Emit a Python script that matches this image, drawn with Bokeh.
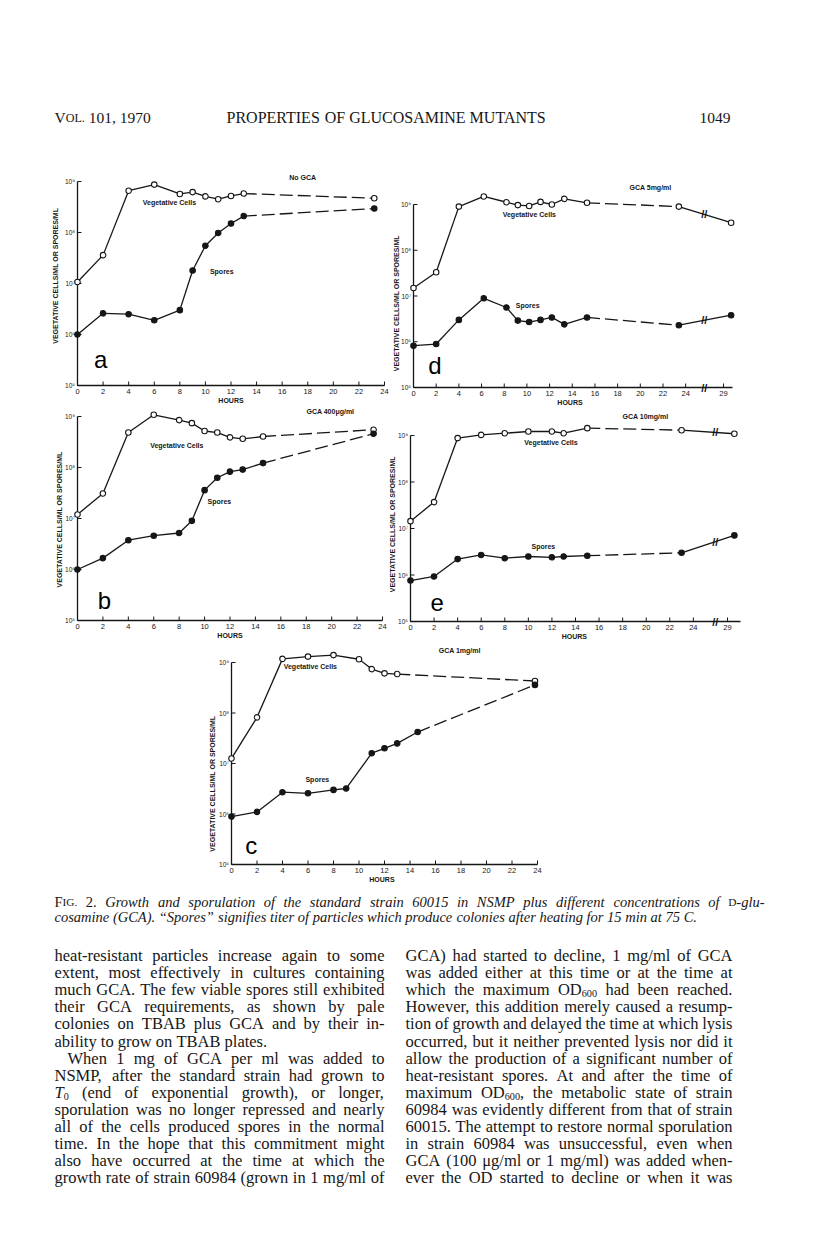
import math
from bokeh.plotting import figure
from bokeh.layouts import column, row
from bokeh.models import Range1d, Spacer
from bokeh.core.properties import value
from bokeh.embed import file_html
from bokeh.resources import INLINE

# ---------------- data ----------------
# panel a : No GCA
A_HOURS = [0, 2, 4, 6, 8, 9, 10, 11, 12, 13, 23.2]
A_VEG = [1.07e7, 3.6e7, 6.6e8, 8.7e8, 5.7e8, 6.2e8, 5.1e8, 4.5e8, 5.2e8, 5.8e8, 4.7e8]
A_SPORES = [1.0e6, 2.6e6, 2.5e6, 1.9e6, 3.0e6, 1.8e7, 5.5e7, 9.8e7, 1.5e8, 2.1e8, 2.95e8]

# panel b : GCA 400 ug/ml
B_HOURS = [0, 2, 4, 6, 8, 9, 10, 11, 12, 13, 14.6, 23.3]
B_VEG = [1.2e7, 3.1e7, 4.85e8, 1.08e9, 8.5e8, 7.4e8, 5.2e8, 4.85e8, 3.9e8, 3.65e8, 4.05e8, 5.5e8]
B_SPORES = [1.0e6, 1.67e6, 3.75e6, 4.6e6, 5.2e6, 9.0e6, 3.6e7, 6.3e7, 8.3e7, 9.1e7, 1.22e8, 4.6e8]

# panel c : GCA 1 mg/ml
C_VEG_HOURS = [0, 2, 4, 6, 8, 10, 11, 12, 13, 23.8]
C_VEG = [1.26e7, 8.2e7, 1.18e9, 1.31e9, 1.4e9, 1.16e9, 7.4e8, 6.1e8, 5.9e8, 4.3e8]
C_SPORE_HOURS = [0, 2, 4, 6, 8, 9, 11, 12, 13, 14.6, 23.8]
C_SPORES = [8.9e5, 1.1e6, 2.7e6, 2.57e6, 3.0e6, 3.2e6, 1.6e7, 2.0e7, 2.5e7, 4.2e7, 3.6e8]

# panel d : GCA 5 mg/ml
D_HOURS = [0, 2, 4, 6.2, 8.2, 9.2, 10.2, 11.2, 12.2, 13.3, 15.3, 23.4, 30]
D_VEG = [1.5e7, 3.3e7, 9.0e8, 1.5e9, 1.12e9, 9.7e8, 9.3e8, 1.14e9, 1.0e9, 1.33e9, 1.09e9, 9.0e8, 4.0e8]
D_SPORES = [8.2e5, 8.9e5, 3.0e6, 8.9e6, 5.6e6, 2.9e6, 2.7e6, 3.0e6, 3.4e6, 2.4e6, 3.4e6, 2.3e6, 3.8e6]

# panel e : GCA 10 mg/ml
E_HOURS = [0, 2, 4, 6, 8, 10, 12, 13, 15, 23, 30]
E_VEG = [1.44e7, 3.7e7, 8.8e8, 1.03e9, 1.12e9, 1.22e9, 1.22e9, 1.12e9, 1.44e9, 1.3e9, 1.09e9]
E_SPORES = [7.6e5, 9.3e5, 2.2e6, 2.7e6, 2.3e6, 2.5e6, 2.4e6, 2.5e6, 2.6e6, 3.0e6, 7.1e6]

X_TICKS = [0, 2, 4, 6, 8, 10, 12, 14, 16, 18, 20, 22, 24]
Y_DECADES = [5, 6, 7, 8, 9]
SUPERSCRIPT = {5: "10\u2075", 6: "10\u2076", 7: "10\u2077", 8: "10\u2078", 9: "10\u2079"}
Y_TITLE = "VEGETATIVE CELLS/ML OR SPORES/ML"
X_TITLE = "HOURS"

HEADER_LEFT = "VOL. 101, 1970"
HEADER_MID = "PROPERTIES OF GLUCOSAMINE MUTANTS"
HEADER_RIGHT = "1049"

CAPTION = [
    "FIG. 2. Growth and sporulation of the standard strain 60015 in NSMP plus different concentrations of D-glu-",
    "cosamine (GCA). \u201cSpores\u201d signifies titer of particles which produce colonies after heating for 15 min at 75 C.",
]
LEFT_COL = [
    "heat-resistant particles increase again to some",
    "extent, most effectively in cultures containing",
    "much GCA. The few viable spores still exhibited",
    "their GCA requirements, as shown by pale",
    "colonies on TBAB plus GCA and by their in-",
    "ability to grow on TBAB plates.",
    "When 1 mg of GCA per ml was added to",
    "NSMP, after the standard strain had grown to",
    "T\u2080 (end of exponential growth), or longer,",
    "sporulation was no longer repressed and nearly",
    "all of the cells produced spores in the normal",
    "time. In the hope that this commitment might",
    "also have occurred at the time at which the",
    "growth rate of strain 60984 (grown in 1 mg/ml of",
]
RIGHT_COL = [
    "GCA) had started to decline, 1 mg/ml of GCA",
    "was added either at this time or at the time at",
    "which the maximum OD\u2086\u2080\u2080 had been reached.",
    "However, this addition merely caused a resump-",
    "tion of growth and delayed the time at which lysis",
    "occurred, but it neither prevented lysis nor did it",
    "allow the production of a significant number of",
    "heat-resistant spores. At and after the time of",
    "maximum OD\u2086\u2080\u2080, the metabolic state of strain",
    "60984 was evidently different from that of strain",
    "60015. The attempt to restore normal sporulation",
    "in strain 60984 was unsuccessful, even when",
    "GCA (100 \u03bcg/ml or 1 mg/ml) was added when-",
    "ever the OD started to decline or when it was",
]

# ---------------- styling / layout ----------------
INK = "#161616"
SANS = "Liberation Sans"
SERIF = "Liberation Serif"

PANELS = {
    "a": dict(w=389, h=245, bl=77, br=5, bt=19, bb=22, x_end=24, pos29=None, brk=None,
              ylab_off=21.7, ylab_dec=7.15, hours_x=12.0,
              series=[(A_HOURS, A_VEG, False, (13, 23.2)), (A_HOURS, A_SPORES, True, (13, 23.2))],
              notes=[("No GCA", 17.6, 1.2e9, "s"), ("Vegetative  Cells", 7.26, 3.9e8, "s"),
                     ("Spores", 11.28, 1.74e7, "s"), ("a", 1.82, 3.3e5, "L")]),
    "d": dict(w=411, h=245, bl=24, br=68, bt=42, bb=20, x_end=28.13, pos29=27.34, brk=25.64,
              ylab_off=17.5, ylab_dec=6.84, hours_x=13.8,
              series=[(D_HOURS, D_VEG, False, (15.3, 23.4)), (D_HOURS, D_SPORES, True, (15.3, 23.4))],
              notes=[("GCA 5mg/ml", 20.9, 2.3e9, "s"), ("Vegetative  Cells", 10.3, 6.1e8, "s"),
                     ("Spores", 10.07, 6.3e6, "s"), ("d", 1.88, 3.05e5, "L")]),
    "b": dict(w=389, h=235, bl=77, br=7, bt=9, bb=22, x_end=24, pos29=None, brk=None,
              ylab_off=18.0, ylab_dec=6.98, hours_x=12.0,
              series=[(B_HOURS, B_VEG, False, (14.6, 23.3)), (B_HOURS, B_SPORES, True, (14.6, 23.3))],
              notes=[("GCA 400\u03bcg/ml", 19.9, 1.25e9, "s"), ("Vegetative  Cells", 7.89, 2.7e8, "s"),
                     ("Spores", 11.16, 2.2e7, "s"), ("b", 2.12, 2.5e5, "L")]),
    "e": dict(w=411, h=235, bl=21, br=60, bt=28, bb=21, x_end=28.0, pos29=26.9, brk=25.86,
              ylab_off=17.8, ylab_dec=7.09, hours_x=13.9,
              series=[(E_HOURS, E_VEG, False, (15, 23)), (E_HOURS, E_SPORES, True, (15, 23))],
              notes=[("GCA 10mg/ml", 19.94, 2.6e9, "s"), ("Vegetative  Cells", 12.0, 6.9e8, "s"),
                     ("Spores", 11.27, 4.2e6, "s"), ("e", 2.27, 2.6e5, "L")]),
    "c": dict(w=398, h=245, bl=77, br=15, bt=20, bb=23, x_end=24, pos29=None, brk=None,
              ylab_off=19.3, ylab_dec=6.6, hours_x=11.8,
              series=[(C_VEG_HOURS, C_VEG, False, (13, 23.8)), (C_SPORE_HOURS, C_SPORES, True, (14.6, 23.8))],
              notes=[("GCA 1mg/ml", 17.9, 1.73e9, "s"), ("Vegetative  Cells", 6.26, 8.3e8, "s"),
                     ("Spores", 6.73, 4.9e6, "s"), ("c", 1.55, 2.4e5, "L")]),
}


def make_xmap(pos29):
    def f(h):
        if pos29 is None or h <= 24:
            return h
        return 24 + (h - 24) * (pos29 - 24) / 5.0
    return f


def txt(p, xs, ys, texts, size, bold=False, align="center", baseline="middle", angle=0.0,
        font=SANS, color=INK):
    p.text(x=xs, y=ys, text=texts, text_font=value(font), text_font_size=value(size),
           text_font_style="bold" if bold else "normal", text_color=color,
           text_align=align, text_baseline=baseline, angle=angle)


def make_panel(cfg):
    fw = cfg["w"] - cfg["bl"] - cfg["br"]
    fh = cfg["h"] - cfg["bt"] - cfg["bb"]
    px_hr = fw / cfg["x_end"]
    px_dec = fh / 4.0
    x_end = cfg["x_end"]
    ybot, ytop = 10.0 ** Y_DECADES[0], 10.0 ** Y_DECADES[-1]

    def dx(px):       # pixel distance -> hours
        return px / px_hr

    def yup(v, px):   # move a log value up by px pixels
        return v * 10 ** (px / px_dec)

    p = figure(width=cfg["w"], height=cfg["h"],
               x_range=Range1d(-cfg["bl"] / px_hr, x_end + cfg["br"] / px_hr),
               y_range=Range1d(10 ** (Y_DECADES[0] - cfg["bb"] / px_dec),
                               10 ** (Y_DECADES[-1] + cfg["bt"] / px_dec)),
               y_axis_type="log", x_axis_location=None, y_axis_location=None,
               output_backend="svg", toolbar_location=None, min_border=0)
    p.outline_line_color = None
    p.grid.visible = False
    p.background_fill_color = "white"
    p.border_fill_color = "white"

    # axes drawn through the scales
    p.segment([0, 0], [ybot, ybot], [x_end, 0], [ybot, ytop], line_color=INK, line_width=1.3)
    xmap = make_xmap(cfg["pos29"])
    xt = list(X_TICKS)
    xl = [str(t) for t in X_TICKS]
    if cfg["pos29"] is not None:
        xt.append(xmap(29))
        xl.append("29")
    p.segment(xt, [ybot] * len(xt), xt, [yup(ybot, 4)] * len(xt), line_color=INK, line_width=1.0)
    yt = [10.0 ** k for k in Y_DECADES]
    p.segment([0] * len(yt), yt, [dx(4)] * len(yt), yt, line_color=INK, line_width=1.0)
    txt(p, xt, [yup(ybot, -6)] * len(xt), xl, "7.5px")
    txt(p, [dx(-2.5)] * len(yt), yt, [SUPERSCRIPT[k] for k in Y_DECADES], "6.5px", align="right")
    txt(p, [cfg["hours_x"]], [yup(ybot, -15)], [X_TITLE], "7px", bold=True)
    txt(p, [dx(-cfg["ylab_off"])], [10 ** cfg["ylab_dec"]], [Y_TITLE], "7px", bold=True,
        angle=math.pi / 2)

    brk_x, brk_y = [], []
    for hours, vals, filled, dash_iv in cfg["series"]:
        xs = [xmap(h) for h in hours]
        solid = dict(x0=[], y0=[], x1=[], y1=[])
        dashed = dict(x0=[], y0=[], x1=[], y1=[])
        for i in range(len(xs) - 1):
            tgt = dashed if (dash_iv[0] <= hours[i] and hours[i + 1] <= dash_iv[1]) else solid
            tgt["x0"].append(xs[i]); tgt["y0"].append(vals[i])
            tgt["x1"].append(xs[i + 1]); tgt["y1"].append(vals[i + 1])
        p.segment(solid["x0"], solid["y0"], solid["x1"], solid["y1"], line_color=INK, line_width=1.3)
        if dashed["x0"]:
            p.segment(dashed["x0"], dashed["y0"], dashed["x1"], dashed["y1"], line_color=INK,
                      line_width=1.3, line_dash="13 5")
        p.scatter(xs, vals, marker="circle", size=5.5, line_color=INK, line_width=1.1,
                  fill_color=INK if filled else "white")
        if cfg["brk"] is not None:
            bp = cfg["brk"]
            for i in range(len(xs) - 1):
                if xs[i] <= bp <= xs[i + 1]:
                    t = (bp - xs[i]) / (xs[i + 1] - xs[i])
                    ly = math.log10(vals[i]) + t * (math.log10(vals[i + 1]) - math.log10(vals[i]))
                    brk_x.append(bp)
                    brk_y.append(10 ** ly)
    if cfg["brk"] is not None:
        brk_x.append(cfg["brk"])
        brk_y.append(ybot)
        txt(p, brk_x, brk_y, ["//"] * len(brk_x), "11px", bold=True)

    for t, hx, hy, kind in cfg["notes"]:
        if kind == "L":
            txt(p, [hx], [hy], [t], "24px", color="#000000")
        else:
            txt(p, [hx], [hy], [t], "7px", bold=True)
    return p


# ---------------- text (Times metrics for justification) ----------------
ROMAN = {' ': 250, '!': 333, '"': 408, "'": 333, '(': 333, ')': 333, ',': 250, '-': 333, '.': 250,
         '/': 278, ':': 278, ';': 278, '?': 444, '\u201c': 444, '\u201d': 444, '\u03bc': 500}
ROMAN.update({d: 500 for d in "0123456789"})
ROMAN.update(dict(zip("ABCDEFGHIJKLMNOPQRSTUVWXYZ",
                      [722, 667, 667, 722, 611, 556, 722, 722, 333, 389, 722, 611, 889, 722, 722, 556,
                       722, 667, 556, 611, 722, 722, 944, 722, 722, 611])))
ROMAN.update(dict(zip("abcdefghijklmnopqrstuvwxyz",
                      [444, 500, 444, 500, 444, 333, 500, 500, 278, 278, 500, 278, 778, 500, 500, 500,
                       500, 333, 389, 278, 500, 500, 722, 500, 500, 444])))
ITALIC = {' ': 250, '(': 333, ')': 333, ',': 250, '-': 333, '.': 250, '/': 278, ':': 333,
          '\u201c': 556, '\u201d': 556}
ITALIC.update({d: 500 for d in "0123456789"})
ITALIC.update(dict(zip("ABCDEFGHIJKLMNOPQRSTUVWXYZ",
                       [611, 611, 667, 722, 611, 611, 722, 722, 333, 444, 667, 556, 833, 667, 722, 611,
                        722, 611, 500, 556, 722, 611, 833, 611, 556, 556])))
ITALIC.update(dict(zip("abcdefghijklmnopqrstuvwxyz",
                       [500, 500, 444, 500, 444, 278, 500, 500, 278, 278, 444, 278, 722, 500, 500, 500,
                        500, 389, 389, 278, 500, 444, 667, 444, 444, 389])))

SUBS = {"\u2080": "0", "\u2086": "6"}


def run_w(text, italic, size):
    tab = ITALIC if italic else ROMAN
    return sum(tab.get(ch, 500) for ch in text) * size / 1000.0


def word_runs(word, italic_default, specials):
    if word in specials:
        return specials[word]
    runs = []
    cur, cur_sub = "", False
    for ch in word:
        is_sub = ch in SUBS
        c = SUBS.get(ch, ch)
        if cur and is_sub != cur_sub:
            runs.append((cur, italic_default, 0.62 if cur_sub else 1.0, 4 if cur_sub else 0))
            cur = ""
        cur += c
        cur_sub = is_sub
    if cur:
        runs.append((cur, italic_default, 0.62 if cur_sub else 1.0, 4 if cur_sub else 0))
    return runs


def set_line(line, x0, x1, y, size, justify, italic_default, specials, sink):
    words = [word_runs(w, italic_default, specials) for w in line.split()]
    widths = [sum(run_w(t, it, size * sc) for t, it, sc, dy in runs) for runs in words]
    space = 250 * size / 1000.0
    if justify and len(words) > 1:
        gap = (x1 - x0 - sum(widths)) / (len(words) - 1)
        gap = max(gap, space * 0.5)
    else:
        gap = space
    x = x0
    for runs, w in zip(words, widths):
        xx = x
        for t, it, sc, dy in runs:
            sink.append((xx, y + dy, t, it, round(size * sc, 2)))
            xx += run_w(t, it, size * sc)
        x += w + gap


def text_figure(w, h, items):
    p = figure(width=w, height=h, x_range=Range1d(0, w), y_range=Range1d(h, 0),
               x_axis_location=None, y_axis_location=None, output_backend="svg",
               toolbar_location=None, min_border=0)
    p.outline_line_color = None
    p.grid.visible = False
    groups = {}
    for x, y, t, it, sz in items:
        groups.setdefault((it, sz), []).append((x, y, t))
    for (it, sz), rows in groups.items():
        p.text(x=[r[0] for r in rows], y=[r[1] for r in rows], text=[r[2] for r in rows],
               text_font=value(SERIF), text_font_size=value(f"{sz}px"),
               text_font_style="italic" if it else "normal", text_color=INK,
               text_align="left", text_baseline="middle")
    return p


# header (page y 8..170)
hdr_items = []
set_line(HEADER_LEFT, 54, 150, 117, 15.5, False, False,
         {"VOL.": [("V", False, 1.0, 0), ("OL.", False, 0.78, 0)]}, hdr_items)
set_line(HEADER_MID, 226, 545, 117, 16.0, False, False, {}, hdr_items)
set_line(HEADER_RIGHT, 699, 730, 117, 15.5, False, False, {}, hdr_items)
header = text_figure(800, 162, hdr_items)

# caption + body (page y 895..1245)
body_items = []
cap_specials = {"FIG.": [("F", False, 1.0, 0), ("IG.", False, 0.78, 0)],
                "2.": [("2.", False, 1.0, 0)],
                "D-glu-": [("D", False, 0.78, 0), ("-glu-", True, 1.0, 0)]}
set_line(CAPTION[0], 54, 764, 14, 14.5, True, True, cap_specials, body_items)
set_line(CAPTION[1], 54, 764, 29, 14.5, False, True, cap_specials, body_items)

body_specials = {"T\u2080": [("T", True, 1.0, 0), ("0", False, 0.62, 4)]}
for i, line in enumerate(LEFT_COL):
    y = 68 + 17.1 * i
    indent = 13 if line.startswith("When 1 mg") else 0
    justify = not line.endswith("plates.")
    set_line(line, 54 + indent, 384, y, 16.5, justify, False, body_specials, body_items)
for i, line in enumerate(RIGHT_COL):
    y = 68 + 17.1 * i
    set_line(line, 405, 732, y, 16.5, True, False, body_specials, body_items)
body = text_figure(800, 350, body_items)

pa = make_panel(PANELS["a"])
pd = make_panel(PANELS["d"])
pb = make_panel(PANELS["b"])
pe = make_panel(PANELS["e"])
pc = make_panel(PANELS["c"])

layout = column(
    header,
    row(pa, pd),
    row(pb, pe),
    row(Spacer(width=154, height=245), pc, Spacer(width=248, height=245)),
    body,
)

open("out.html", "w").write(file_html(layout, INLINE))
